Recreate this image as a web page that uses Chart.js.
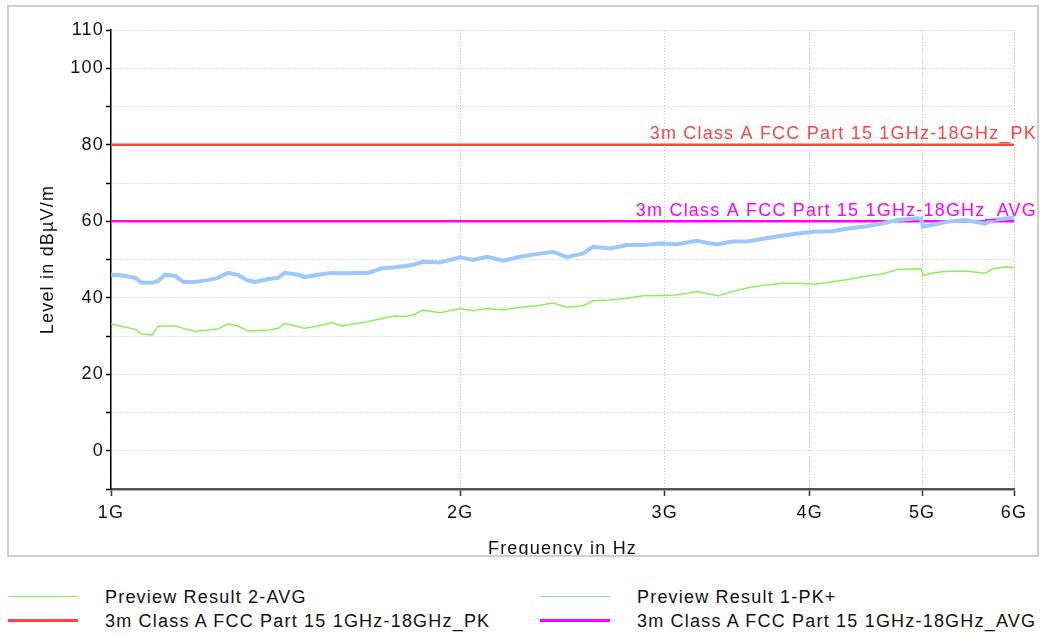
<!DOCTYPE html>
<html>
<head>
<meta charset="utf-8">
<script src="https://cdn.jsdelivr.net/npm/chart.js@4"></script>
<style>
  body { margin: 0; background: #fff; font-family: "Liberation Sans", Arial, sans-serif; }
  #wrap { position: relative; width: 1044px; height: 636px; overflow: hidden; }
  #plot { position: absolute; left: 0; top: 0; width: 1044px; height: 556px; overflow: hidden; }
  #box { position: absolute; left: 7px; top: 5px; width: 1028px; height: 548px; border: 2px solid #cfcfcf; pointer-events: none; }
  .leg { position: absolute; font-size: 18px; letter-spacing: 1.2px; color: #111; line-height: 24px; white-space: nowrap; }
  .sw { position: absolute; width: 70px; }
</style>
</head>
<body>
<div id="wrap">
  <div id="plot"><canvas id="emc" width="1044" height="560"></canvas></div>
  <div id="box"></div>
  <div class="sw" style="left:8px;top:596px;border-top:1.5px solid #8cf05a"></div>
  <div class="leg" style="left:105px;top:585px">Preview Result 2-AVG</div>
  <div class="sw" style="left:540px;top:596px;border-top:1.5px solid #9cc8fa"></div>
  <div class="leg" style="left:637px;top:585px">Preview Result 1-PK+</div>
  <div class="sw" style="left:8px;top:619px;border-top:3px solid #ff4343"></div>
  <div class="leg" style="left:105px;top:609px">3m Class A FCC Part 15 1GHz-18GHz_PK</div>
  <div class="sw" style="left:540px;top:619px;border-top:3px solid #ff00ff"></div>
  <div class="leg" style="left:637px;top:609px">3m Class A FCC Part 15 1GHz-18GHz_AVG</div>
</div>
<script>
// Frequencies in GHz (log axis)
const freqGHz = [1.000, 1.022, 1.049, 1.063, 1.085, 1.098, 1.113, 1.136, 1.154, 1.181,
  1.212, 1.236, 1.261, 1.286, 1.310, 1.331, 1.366, 1.393, 1.412, 1.449,
  1.469, 1.508, 1.550, 1.581, 1.623, 1.665, 1.712, 1.757, 1.792, 1.821,
  1.857, 1.920, 2.000, 2.051, 2.109, 2.177, 2.251, 2.328, 2.404, 2.472,
  2.551, 2.603, 2.692, 2.784, 2.873, 2.973, 3.074, 3.199, 3.283, 3.336,
  3.429, 3.540, 3.661, 3.787, 3.908, 4.043, 4.182, 4.317, 4.465, 4.617,
  4.766, 4.930, 4.989, 5.009, 5.130, 5.265, 5.445, 5.665, 5.744, 5.893, 6.000];

// Preview Result 1-PK+ (dBµV/m)
const pkLevel = [46.0, 45.8, 45.2, 43.9, 43.9, 44.4, 46.0, 45.7, 44.1, 44.1,
  44.6, 45.2, 46.5, 46.0, 44.6, 44.1, 44.9, 45.2, 46.5, 46.0,
  45.4, 46.0, 46.5, 46.4, 46.5, 46.5, 47.7, 48.0, 48.3, 48.6,
  49.4, 49.2, 50.6, 49.9, 50.7, 49.7, 50.7, 51.4, 52.0, 50.6,
  51.6, 53.3, 52.9, 53.8, 53.8, 54.2, 54.0, 54.9, 54.2, 54.0,
  54.7, 54.8, 55.5, 56.2, 56.8, 57.3, 57.4, 58.1, 58.6, 59.4,
  60.3, 60.7, 60.7, 58.6, 59.2, 59.9, 60.3, 59.4, 60.3, 60.7, 60.9];

// Preview Result 2-AVG (dBµV/m)
const avgLevel = [33.2, 32.5, 31.8, 30.5, 30.3, 32.5, 32.6, 32.6, 32.0, 31.2,
  31.6, 31.8, 33.2, 32.6, 31.4, 31.4, 31.6, 32.0, 33.3, 32.5,
  32.0, 32.6, 33.5, 32.6, 33.2, 33.8, 34.6, 35.2, 35.1, 35.5,
  36.8, 36.1, 37.2, 36.6, 37.2, 36.8, 37.5, 37.9, 38.6, 37.5,
  37.9, 39.2, 39.4, 39.9, 40.5, 40.6, 40.7, 41.6, 40.9, 40.5,
  41.6, 42.6, 43.3, 43.8, 43.8, 43.5, 44.2, 44.8, 45.6, 46.2,
  47.4, 47.6, 47.5, 45.8, 46.6, 46.9, 47.0, 46.4, 47.5, 48.1, 47.9];

// Limits
const limitFreq = [1, 6];
const pkLimit = [80, 80];
const avgLimit = [60, 60];
const pkLimitName = "3m Class A FCC Part 15 1GHz-18GHz_PK";
const avgLimitName = "3m Class A FCC Part 15 1GHz-18GHz_AVG";

// Axis ticks
const xTicks = [1, 2, 3, 4, 5, 6];
const yTicks = [-10, 0, 10, 20, 30, 40, 50, 60, 70, 80, 90, 100, 110];
const yLabelled = [0, 20, 40, 60, 80, 100, 110];

const FONT = "'Liberation Sans', Arial, sans-serif";
const RED = "#ff4343";
const MAGENTA = "#ff00ff";

const toPts = (xs, ys) => xs.map((x, i) => ({ x: x, y: ys[i] }));

// Limit line names above the lines
const limitLabels = {
  id: "limitLabels",
  afterDatasetsDraw(chart) {
    const ctx = chart.ctx;
    const y = chart.scales.y;
    ctx.save();
    ctx.font = "18px " + FONT;
    ctx.letterSpacing = "1.2px";
    ctx.textAlign = "right";
    ctx.textBaseline = "alphabetic";
    ctx.fillStyle = RED;
    ctx.fillText(pkLimitName, 1037, y.getPixelForValue(pkLimit[0]) - 6);
    ctx.fillStyle = MAGENTA;
    ctx.fillText(avgLimitName, 1037, y.getPixelForValue(avgLimit[0]) - 5);
    ctx.restore();
  },
  beforeDraw(chart) {
    chart.ctx.letterSpacing = "1.2px";
  }
};

new Chart(document.getElementById("emc"), {
  type: "line",
  data: {
    datasets: [
      { label: "Preview Result 2-AVG", data: toPts(freqGHz, avgLevel), borderColor: "#8cf05a", borderWidth: 1.5 },
      { label: "Preview Result 1-PK+", data: toPts(freqGHz, pkLevel), borderColor: "#9cc8fa", borderWidth: 4 },
      { label: pkLimitName, data: toPts(limitFreq, pkLimit), borderColor: RED, borderWidth: 2.5 },
      { label: avgLimitName, data: toPts(limitFreq, avgLimit), borderColor: MAGENTA, borderWidth: 2.5 }
    ]
  },
  options: {
    responsive: false,
    animation: false,
    parsing: false,
    elements: { point: { radius: 0 }, line: { tension: 0 } },
    layout: { padding: { left: 33, top: 30, right: 30, bottom: 0 } },
    plugins: { legend: { display: false }, tooltip: { enabled: false } },
    scales: {
      x: {
        type: "logarithmic",
        min: 1,
        max: 6,
        afterBuildTicks: s => { s.ticks = xTicks.map(v => ({ value: v })); },
        afterFit: s => { s.height = 71; },
        ticks: {
          autoSkip: false,
          maxRotation: 0,
          padding: 6,
          color: "#111",
          font: { family: FONT, size: 18 },
          callback: v => v + "G"
        },
        grid: { color: "#c4c4c4", lineWidth: 1, tickLength: 7, tickColor: "#333", tickWidth: 1.5 },
        border: { color: "#555", width: 2.5, dash: [1, 2] },
        title: { display: true, text: "Frequency in Hz", color: "#111", font: { family: FONT, size: 18 }, padding: 0 }
      },
      y: {
        min: -10,
        max: 110,
        afterBuildTicks: s => { s.ticks = yTicks.map(v => ({ value: v })); },
        afterFit: s => { s.width = 78; },
        ticks: {
          autoSkip: false,
          padding: 2,
          color: "#111",
          font: { family: FONT, size: 18 },
          callback: v => (yLabelled.includes(v) ? String(v) : "")
        },
        grid: { color: "#c4c4c4", lineWidth: 1, tickLength: 5, tickColor: "#000", tickWidth: 1.5 },
        border: { color: "#000", width: 1.5, dash: [1, 2] },
        title: { display: true, text: "Level in dBµV/m", color: "#111", font: { family: FONT, size: 18 }, padding: { top: 4 } }
      }
    }
  },
  plugins: [limitLabels]
});
</script>
</body>
</html>
